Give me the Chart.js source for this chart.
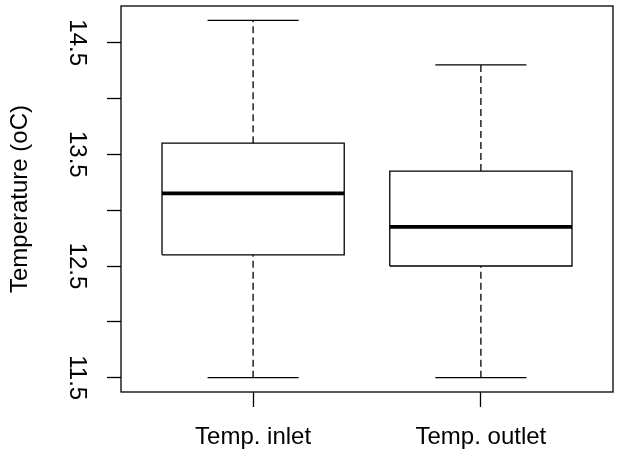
<!DOCTYPE html>
<html>
<head>
<meta charset="utf-8">
<script src="https://cdn.jsdelivr.net/npm/chart.js@4"></script>
<style>
  body { margin: 0; background: #fff; }
</style>
</head>
<body>
<canvas id="boxChart" width="620" height="461"></canvas>
<script>
// boxplot stats
const groups = ["Temp. inlet", "Temp. outlet"];
const positions = [1, 2];
const mins = [11.5, 11.5];
const q1s = [12.6, 12.5];
const medians = [13.15, 12.85];
const q3s = [13.6, 13.35];
const maxs = [14.7, 14.3];

const yTickValues = [11.5, 12, 12.5, 13, 13.5, 14, 14.5];
const yTickLabels = ["11.5", "", "12.5", "", "13.5", "", "14.5"];

const boxHalf = 0.4;
const capHalf = 0.2;

// build line segments, {y:null} breaks the line between groups
const boxPts = [];
const medPts = [];
const whiskPts = [];
const capPts = [];
positions.forEach((x, i) => {
    boxPts.push(
        { x: x - boxHalf, y: q1s[i] }, { x: x + boxHalf, y: q1s[i] },
        { x: x + boxHalf, y: q3s[i] }, { x: x - boxHalf, y: q3s[i] },
        { x: x - boxHalf, y: q1s[i] }, { x: x, y: null }
    );
    medPts.push({ x: x - boxHalf, y: medians[i] }, { x: x + boxHalf, y: medians[i] }, { x: x, y: null });
    whiskPts.push(
        { x: x, y: q3s[i] }, { x: x, y: maxs[i] }, { x: x, y: null },
        { x: x, y: mins[i] }, { x: x, y: q1s[i] }, { x: x, y: null }
    );
    capPts.push(
        { x: x - capHalf, y: maxs[i] }, { x: x + capHalf, y: maxs[i] }, { x: x, y: null },
        { x: x - capHalf, y: mins[i] }, { x: x + capHalf, y: mins[i] }, { x: x, y: null }
    );
});

const lineSet = (data, width, dash) => ({
    data,
    showLine: true,
    spanGaps: false,
    pointRadius: 0,
    borderColor: "#000",
    borderWidth: width,
    borderDash: dash || [],
    fill: false,
    tension: 0
});

// frame round the plot area, like R's box()
const frame = {
    id: "frame",
    afterDraw(chart) {
        const a = chart.chartArea;
        const c = chart.ctx;
        c.save();
        c.strokeStyle = "#000";
        c.lineWidth = 1.3;
        c.strokeRect(a.left, a.top, a.right - a.left, a.bottom - a.top);
        c.restore();
    }
};

const fontSpec = { family: "'Liberation Sans', Arial", size: 24 };

const ctx = document.getElementById("boxChart");

new Chart(ctx, {
    type: "scatter",
    data: {
        datasets: [
            lineSet(whiskPts, 1.3, [7, 4]),
            lineSet(capPts, 1.3),
            lineSet(boxPts, 1.3),
            lineSet(medPts, 3.6)
        ]
    },
    options: {
        responsive: false,
        animation: false,
        layout: { padding: { top: 6, right: 7, left: 0, bottom: 0 } },
        plugins: {
            legend: { display: false },
            tooltip: { enabled: false }
        },
        scales: {
            x: {
                type: "linear",
                min: 0.42,
                max: 2.58,
                afterBuildTicks: (s) => { s.ticks = positions.map(v => ({ value: v })); },
                afterFit: (s) => {
                    s.height = 69;
                    s.paddingLeft = 0;
                    s.paddingRight = 0;
                },
                border: { display: false },
                grid: {
                    drawOnChartArea: false,
                    drawTicks: true,
                    tickLength: 15,
                    tickColor: "#000",
                    tickWidth: 1.3
                },
                ticks: {
                    color: "#000",
                    padding: 16,
                    maxRotation: 0,
                    font: fontSpec,
                    callback: (v, i) => groups[i]
                }
            },
            y: {
                min: 11.372,
                max: 14.828,
                afterBuildTicks: (s) => { s.ticks = yTickValues.map(v => ({ value: v })); },
                afterFit: (s) => {
                    s.width = 121;
                    s.paddingTop = 0;
                    s.paddingBottom = 0;
                },
                border: { display: false },
                grid: {
                    drawOnChartArea: false,
                    drawTicks: true,
                    tickLength: 14,
                    tickColor: "#000",
                    tickWidth: 1.3
                },
                ticks: {
                    color: "#000",
                    padding: 7,
                    minRotation: -90,
                    maxRotation: -90,
                    crossAlign: "center",
                    font: fontSpec,
                    callback: (v, i) => yTickLabels[i]
                },
                title: {
                    display: true,
                    text: "Temperature (oC)",
                    color: "#000",
                    padding: { top: 6, bottom: 0 },
                    font: fontSpec
                }
            }
        }
    },
    plugins: [frame]
});
</script>
</body>
</html>
